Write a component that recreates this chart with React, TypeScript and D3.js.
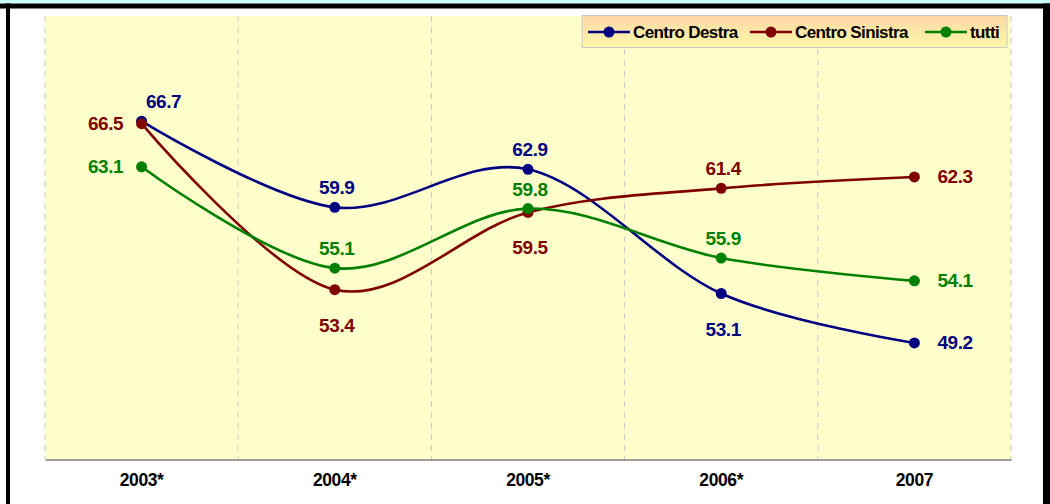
import React, { useEffect, useRef } from "react";
import * as d3 from "d3";

const categories = ["2003*", "2004*", "2005*", "2006*", "2007"];
const centroDestra = [66.7, 59.9, 62.9, 53.1, 49.2];
const centroSinistra = [66.5, 53.4, 59.5, 61.4, 62.3];
const tutti = [63.1, 55.1, 59.8, 55.9, 54.1];
const seriesNames = ["Centro Destra", "Centro Sinistra", "tutti"];
const seriesColors = ["#000080", "#800000", "#008000"];
// where each value label sits relative to its point
const labelPlaces = [
  ["above", "above", "above", "below", "right"],
  ["left", "below", "below", "above", "right"],
  ["left", "above", "above", "above", "right"],
];

export default function App() {
  const ref = useRef<SVGSVGElement>(null);

  useEffect(() => {
    document.body.style.margin = "0";
    const width = 1050, height = 504;
    const margin = { top: 16, right: 39, bottom: 44.5, left: 45 };
    const svg = d3.select(ref.current);
    svg.selectAll("*").remove();

    // frame
    svg.append("rect").attr("width", width).attr("height", height).attr("fill", "#fff");
    svg.append("rect").attr("width", width).attr("height", 3.5).attr("fill", "#CCFFFF");
    svg.append("rect").attr("y", 3.5).attr("width", width).attr("height", 5).attr("fill", "#000");
    svg.append("rect").attr("x", 6).attr("y", 3.5).attr("width", 4).attr("height", height).attr("fill", "#000");
    svg.append("rect").attr("x", 1043).attr("y", 3.5).attr("width", 7).attr("height", height).attr("fill", "#000");

    const x = d3.scaleBand().domain(categories).range([margin.left, width - margin.right]);
    const y = d3.scaleLinear().domain([40, 75]).range([height - margin.bottom, margin.top]);
    const cx = (c: string) => (x(c) as number) + x.bandwidth() / 2;

    svg.append("rect")
      .attr("x", margin.left).attr("y", margin.top)
      .attr("width", width - margin.left - margin.right)
      .attr("height", height - margin.top - margin.bottom)
      .attr("fill", "#FFFFCC");

    // dashed vertical grid at band edges
    const edges = categories.map((c) => x(c) as number).concat([width - margin.right]);
    svg.append("g").selectAll("line").data(edges).join("line")
      .attr("x1", (d) => d).attr("x2", (d) => d)
      .attr("y1", margin.top).attr("y2", height - margin.bottom)
      .attr("stroke", "#C8C8C8").attr("stroke-dasharray", "6,5");

    // x axis
    const xAxis = svg.append("g")
      .attr("transform", `translate(0,${height - margin.bottom})`)
      .call(d3.axisBottom(x).tickSize(0).tickPadding(14));
    xAxis.select(".domain").attr("stroke", "#404040").attr("stroke-width", 1.2);
    xAxis.selectAll("text")
      .attr("font-family", "Liberation Sans, Arial, sans-serif")
      .attr("font-weight", "bold").attr("font-size", 17.5)
      .attr("letter-spacing", "-0.4").attr("fill", "#000");

    const seriesData = [centroDestra, centroSinistra, tutti];
    const line = d3.line<number>()
      .x((_, i) => cx(categories[i]))
      .y((d) => y(d))
      .curve(d3.curveCardinal.tension(0));

    seriesData.forEach((vals, s) => {
      svg.append("path").datum(vals)
        .attr("d", line).attr("fill", "none")
        .attr("stroke", seriesColors[s]).attr("stroke-width", 2.6);
      svg.append("g").selectAll("circle").data(vals).join("circle")
        .attr("cx", (_, i) => cx(categories[i])).attr("cy", (d) => y(d))
        .attr("r", 5.5).attr("fill", seriesColors[s]);
    });

    seriesData.forEach((vals, s) => {
      svg.append("g").selectAll("text").data(vals).join("text")
        .attr("x", (_, i) => {
          const p = labelPlaces[s][i];
          const base = cx(categories[i]);
          if (p === "left") return base - 36;
          if (p === "right") return base + 23;
          return base + (s === 0 && i === 0 ? 22 : 2);
        })
        .attr("y", (d, i) => {
          const p = labelPlaces[s][i];
          if (p === "above") return y(d) - 13;
          if (p === "below") return y(d) + 42;
          return y(d) + 6.5;
        })
        .attr("text-anchor", (_, i) => (labelPlaces[s][i] === "right" ? "start" : "middle"))
        .attr("font-family", "Liberation Sans, Arial, sans-serif")
        .attr("font-weight", "bold").attr("font-size", 19)
        .attr("letter-spacing", "-0.4")
        .attr("fill", seriesColors[s])
        .text((d) => d.toFixed(1));
    });

    // legend
    const grad = svg.append("defs").append("linearGradient")
      .attr("id", "lg").attr("x1", 0).attr("y1", 0).attr("x2", 0).attr("y2", 1);
    grad.append("stop").attr("offset", "0%").attr("stop-color", "#FFD7A6");
    grad.append("stop").attr("offset", "100%").attr("stop-color", "#FFF8A8");
    svg.append("rect")
      .attr("x", 582).attr("y", 15.5).attr("width", 425).attr("height", 32)
      .attr("fill", "url(#lg)").attr("stroke", "#C8C8C8");
    const legendX = [588, 750, 925];
    seriesNames.forEach((name, s) => {
      const g = svg.append("g").attr("transform", `translate(${legendX[s]},32)`);
      g.append("line").attr("x1", 0).attr("x2", 42)
        .attr("stroke", seriesColors[s]).attr("stroke-width", 2.6);
      g.append("circle").attr("cx", 21).attr("r", 5.5).attr("fill", seriesColors[s]);
      g.append("text").attr("x", 45).attr("y", 6)
        .attr("font-family", "Liberation Sans, Arial, sans-serif")
        .attr("font-weight", "bold").attr("font-size", 17)
        .attr("letter-spacing", "-0.6").attr("fill", "#000")
        .text(name);
    });
  }, []);

  return (
    <svg ref={ref} width={1050} height={504} style={{ display: "block" }} />
  );
}
